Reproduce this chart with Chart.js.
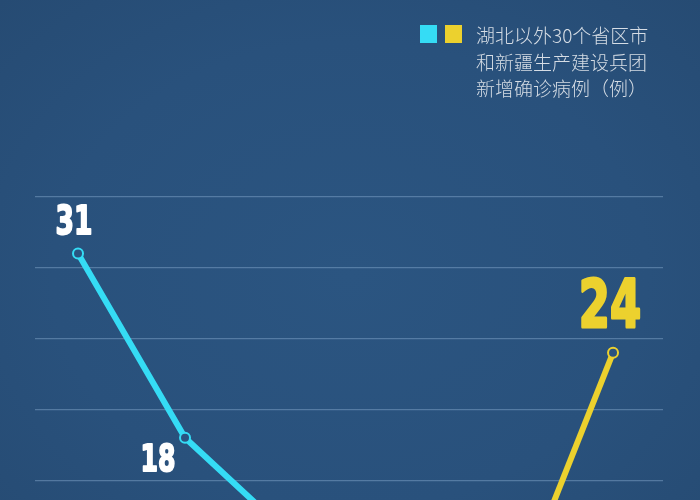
<!DOCTYPE html>
<html>
<head>
<meta charset="utf-8">
<script src="https://cdn.jsdelivr.net/npm/chart.js@4"></script>
<style>
  html, body { margin:0; padding:0; width:700px; height:500px; overflow:hidden; }
  body { background: radial-gradient(ellipse at 50% 55%, #2b5581 0%, #29517c 60%, #264b73 100%); position:relative; font-family:"Noto Sans CJK SC", sans-serif; }
  #wrap { position:absolute; left:0; top:0; width:700px; height:700px; }
  #legend { position:absolute; left:420px; top:25px; }
  .sq { position:absolute; top:0; width:17px; height:18px; }
  #legend .txt { position:absolute; left:56px; top:-3px; width:220px; color:#d6dde5; font-size:19px; line-height:26.5px; white-space:nowrap; font-weight:300; }
</style>
</head>
<body>
<div id="wrap"><canvas id="c"></canvas></div>
<div id="legend">
  <div class="sq" style="left:0;background:#35dcf5"></div>
  <div class="sq" style="left:25px;background:#ecd12e"></div>
  <div class="txt">湖北以外30个省区市<br>和新疆生产建设兵团<br>新增确诊病例（例）</div>
</div>
<script>
// data
const pointIndex = [0, 1, 2, 3, 4, 5];
const casesCyan  = [31, 18, 11, 9, 5, null];
const casesYellow = [null, null, null, null, 5, 24];
const shownLabels = [
  { i: 0, v: 31, series: 'cyan' },
  { i: 1, v: 18, series: 'cyan' },
  { i: 5, v: 24, series: 'yellow' }
];
const gridTicks = [15, 20, 25, 30, 35];

const CYAN = '#35dcf5', YELLOW = '#ecd12e', BG = '#2a5380';

const toXY = arr => pointIndex.map((x, k) => ({ x: x, y: arr[k] }));

const labelPlugin = {
  id: 'valueLabels',
  afterDatasetsDraw(chart) {
    const ctx = chart.ctx;
    const xs = chart.scales.x, ys = chart.scales.y;
    shownLabels.forEach(l => {
      const px = xs.getPixelForValue(l.i), py = ys.getPixelForValue(l.v);
      ctx.save();
      let size, dx, dy, color, sx, sw;
      if (l.series === 'yellow') { size = 66; dx = -3; dy = -43; color = YELLOW; sx = 0.68; sw = 3; }
      else if (l.i === 0) { size = 39; dx = -4; dy = -30; color = '#ffffff'; sx = 0.68; sw = 2; }
      else { size = 37; dx = -27; dy = 24; color = '#ffffff'; sx = 0.68; sw = 2; }
      ctx.translate(px + dx, py + dy);
      ctx.scale(sx, 1);
      ctx.font = 'bold ' + size + 'px "DejaVu Sans", sans-serif';
      ctx.fillStyle = color;
      ctx.strokeStyle = color;
      ctx.lineWidth = sw;
      ctx.lineJoin = 'round';
      ctx.textAlign = 'center';
      ctx.textBaseline = 'middle';
      ctx.fillText(String(l.v), 0, 0);
      ctx.strokeText(String(l.v), 0, 0);
      ctx.restore();
    });
  }
};

new Chart(document.getElementById('c'), {
  type: 'line',
  data: {
    datasets: [
      { data: toXY(casesCyan), borderColor: CYAN, borderWidth: 6, pointRadius: 5, pointBorderWidth: 2,
        pointBorderColor: CYAN, pointBackgroundColor: BG, tension: 0, spanGaps: false },
      { data: toXY(casesYellow), borderColor: YELLOW, borderWidth: 6, pointRadius: 5, pointBorderWidth: 2,
        pointBorderColor: YELLOW, pointBackgroundColor: BG, tension: 0, spanGaps: false }
    ]
  },
  options: {
    responsive: true, maintainAspectRatio: false, animation: false,
    layout: { padding: { left: 35, right: 37, top: 55, bottom: 6 } },
    plugins: { legend: { display: false }, tooltip: { enabled: false } },
    scales: {
      x: { type: 'linear', min: -0.402, max: 5.467, display: false },
      y: { min: 0, max: 45, afterBuildTicks: s => { s.ticks = gridTicks.map(v => ({ value: v })); },
           ticks: { display: false }, border: { display: false },
           grid: { color: 'rgba(150,185,220,0.4)', lineWidth: 1.2, drawTicks: false } }
    }
  },
  plugins: [labelPlugin]
});
</script>
</body>
</html>
